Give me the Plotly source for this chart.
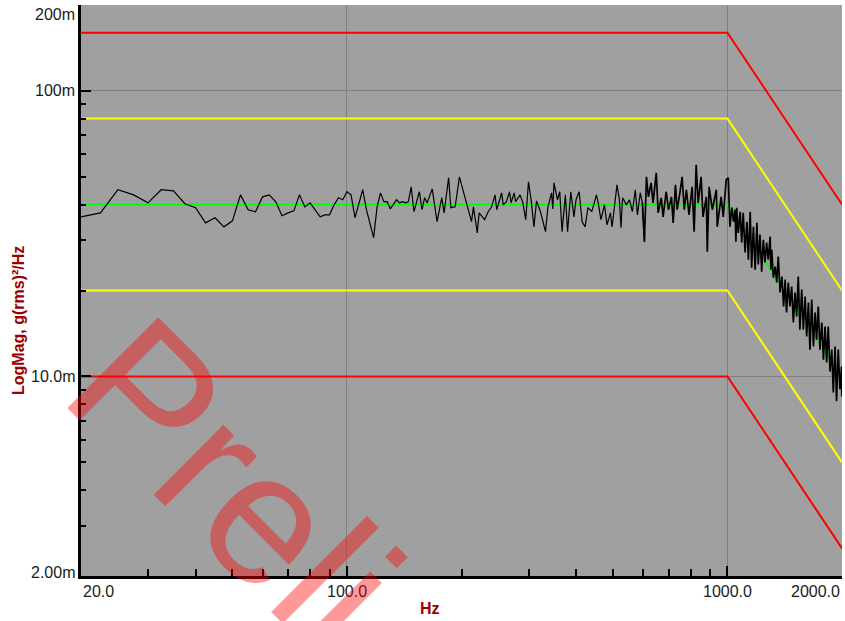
import numpy as np
import plotly.graph_objects as go

# ---- test profile (g^2/Hz) ----
profile_freq = [20, 1000, 2000]
ref_psd = [0.04, 0.04, 0.01]
alarm_hi = [0.08, 0.08, 0.02]
alarm_lo = [0.02, 0.02, 0.005]
abort_hi = [0.16, 0.16, 0.04]
abort_lo = [0.01, 0.01, 0.0025]

# ---- measured response, level in dB re 1 g^2/Hz ----
meas_freq_low = [20, 22.5, 25, 27.5, 30, 32.5, 35, 37.5, 40, 42.5, 45, 47.5, 50, 52.5, 55, 57.5, 60, 62.5, 65, 67.5,
                 70, 72.5, 75, 77.5, 80, 85, 87.5, 90, 92.5, 95, 97.5, 100, 102.5, 105, 110, 112.5, 117.5, 120, 122.5,
                 125, 127.5, 130, 135, 137.5, 140, 142.5, 145, 147.5, 150, 155, 157.5, 160, 162.5, 167.5, 172.5,
                 177.5, 180, 185, 187.5, 192.5, 197.5, 200]
meas_db_low = [-14.41, -14.27, -13.46, -13.64, -13.92, -13.46, -13.50, -13.95, -14.09, -14.62, -14.44, -14.76, -14.55,
               -13.64, -14.16, -14.23, -13.71, -13.64, -13.88, -14.37, -14.27, -14.20, -13.64, -14.06, -13.92, -14.41,
               -14.34, -14.34, -13.99, -13.74, -13.81, -13.53, -13.64, -14.44, -13.46, -14.16, -15.14, -14.06, -13.57,
               -13.88, -13.88, -14.13, -13.81, -13.92, -13.88, -13.92, -13.88, -13.36, -14.23, -13.53, -14.16, -13.74,
               -13.92, -13.43, -14.58, -13.74, -14.27, -13.04, -14.09, -14.06, -13.01, -13.29]

meas_freq_mid = [205, 212.5, 215, 220, 222.5, 230, 235, 240, 245, 247.5, 255, 257.5, 262.5, 267.5, 270, 275, 277.5,
                 285, 290, 295, 300, 305, 310, 315, 322.5, 332.5, 337.5, 345, 347.5, 350, 357.5, 362.5, 367.5, 375,
                 380, 387.5, 395, 400, 407.5, 415, 422.5, 430, 440, 452.5, 457.5, 465, 475, 482.5, 492.5, 497.5,
                 512.5, 520, 525, 530, 542.5, 552.5, 562.5, 572.5, 580, 590, 597.5]
meas_db_mid = [-13.74, -14.58, -14.06, -14.97, -14.27, -14.51, -14.23, -14.06, -13.64, -14.16, -13.57, -13.99, -13.88,
               -13.53, -13.92, -13.57, -13.88, -13.64, -13.92, -14.51, -13.18, -13.85, -14.76, -13.85, -14.23, -14.93,
               -14.06, -13.57, -14.13, -13.22, -13.81, -13.53, -14.93, -13.64, -14.93, -13.53, -14.41, -13.81, -13.53,
               -14.58, -14.76, -14.09, -14.23, -13.64, -13.92, -14.51, -13.99, -14.69, -14.27, -14.76, -13.29, -13.81,
               -14.79, -13.74, -13.99, -13.81, -14.23, -13.46, -14.34, -13.57, -13.92]

meas_freq_dense = [605, 612.5, 620, 630, 637.5, 650, 657.5, 670, 677.5, 690, 700, 712.5, 720, 730, 737.5, 750, 760,
                   770, 780, 792.5, 807.5, 817.5, 827.5, 837.5, 852.5, 862.5, 880, 885, 895, 912.5, 935, 940, 962.5,
                   975, 992.5]
meas_db_dense = [-15.28, -13.01, -13.71, -13.22, -13.92, -12.87, -14.27, -13.74, -14.41, -13.53, -14.16, -13.71,
                 -14.62, -13.29, -14.16, -13.57, -13.01, -14.16, -13.46, -14.34, -13.36, -14.93, -12.59, -13.92,
                 -13.01, -14.41, -13.71, -15.63, -13.36, -14.16, -13.46, -14.76, -13.71, -14.41, -13.11]

meas_freq_high = [1005, 1015, 1027.5, 1037.5, 1047.5, 1052.5, 1057.5, 1067.5, 1080, 1090, 1100, 1112.5, 1125, 1135,
                  1147.5, 1157.5, 1170, 1182.5, 1195, 1205, 1217.5, 1230, 1242.5, 1255, 1267.5, 1280, 1295, 1300,
                  1307.5, 1320, 1335, 1347.5, 1360, 1375, 1390, 1405, 1417.5, 1430, 1445, 1460, 1475, 1490, 1505,
                  1520, 1535, 1550, 1567.5, 1582.5, 1600, 1615, 1632.5, 1647.5, 1665, 1682.5, 1700, 1715, 1732.5,
                  1750, 1770, 1787.5, 1805, 1822.5, 1840, 1860, 1880, 1897.5, 1917.5, 1935, 1955, 1975, 1995, 1997.5,
                  2000]
meas_db_high = [-13.04, -14.76, -14.09, -14.58, -14.16, -15.28, -14.09, -14.97, -14.23, -15.31, -14.27, -15.66,
                -14.58, -15.91, -14.23, -16.19, -14.76, -16.26, -14.62, -16.08, -15.03, -16.33, -15.21, -16.01,
                -15.31, -15.91, -15.10, -16.26, -15.56, -16.54, -16.15, -16.71, -15.80, -17.06, -16.50, -17.55,
                -16.61, -17.76, -16.71, -17.55, -16.85, -18.11, -17.06, -17.90, -16.50, -18.36, -16.96, -18.36,
                -17.20, -18.60, -17.41, -19.06, -17.31, -18.95, -17.76, -18.71, -17.55, -19.06, -18.11, -19.41,
                -18.25, -19.51, -18.25, -19.83, -19.06, -20.56, -18.95, -20.87, -19.06, -20.45, -19.65, -20.70,
                -19.76]

# ---- axes / labels ----
x_tick_vals = [20, 100, 1000, 2000]
x_tick_text = ["20.0", "100.0", "1000.0", "2000.0"]
x_minor_vals = [30, 40, 50, 60, 70, 80, 90, 200, 300, 400, 500, 600, 700, 800, 900]
y_tick_vals = [0.002, 0.01, 0.1, 0.2]
y_tick_text = ["2.00m", "10.0m", "100m", "200m"]
y_minor_vals = [0.003, 0.004, 0.005, 0.006, 0.007, 0.008, 0.009,
                0.02, 0.03, 0.04, 0.05, 0.06, 0.07, 0.08, 0.09]
x_title = "Hz"
y_title = "LogMag, g(rms)²/Hz"
watermark = "Preli."

# sparse (low/mid) part and dense (dense/high) part of the same measurement
sparse_freq = meas_freq_low + meas_freq_mid + meas_freq_dense[:1]
sparse_psd = 10 ** (np.array(meas_db_low + meas_db_mid + meas_db_dense[:1]) / 10.0)
dense_freq = meas_freq_mid[-1:] + meas_freq_dense + meas_freq_high
dense_psd = 10 ** (np.array(meas_db_mid[-1:] + meas_db_dense + meas_db_high) / 10.0)

W, H = 845, 621
ML, MR, MT, MB = 81, 3, 5, 45

fig = go.Figure()
fig.add_trace(go.Scatter(x=profile_freq, y=abort_lo, mode="lines", line=dict(color="#ff0000", width=2)))
fig.add_trace(go.Scatter(x=profile_freq, y=abort_hi, mode="lines", line=dict(color="#ff0000", width=2)))
fig.add_trace(go.Scatter(x=profile_freq, y=alarm_lo, mode="lines", line=dict(color="#ffff00", width=2)))
fig.add_trace(go.Scatter(x=profile_freq, y=alarm_hi, mode="lines", line=dict(color="#ffff00", width=2)))
fig.add_trace(go.Scatter(x=profile_freq, y=ref_psd, mode="lines", line=dict(color="#00ff00", width=2)))
fig.add_trace(go.Scatter(x=sparse_freq, y=sparse_psd, mode="lines", line=dict(color="#000000", width=1.2)))
fig.add_trace(go.Scatter(x=dense_freq, y=dense_psd, mode="lines", line=dict(color="#000000", width=1.7)))

tick_font = dict(family="Liberation Sans, Arial, sans-serif", size=16, color="#1a1a1a")
title_font = dict(family="Liberation Sans, Arial, sans-serif", size=16, color="#990000")

fig.update_xaxes(type="log", range=[np.log10(20), np.log10(2000)],
                 showline=True, linecolor="black", linewidth=3,
                 ticks="inside", tickvals=[100, 1000], ticklen=10, tickwidth=2, tickcolor="black",
                 showticklabels=False, showgrid=True, gridcolor="#808080", gridwidth=1, zeroline=False,
                 minor=dict(tickvals=x_minor_vals, ticks="inside", ticklen=7, tickwidth=2,
                            tickcolor="black", showgrid=False))
fig.update_yaxes(type="log", range=[np.log10(0.002), np.log10(0.2)],
                 showline=True, linecolor="black", linewidth=3,
                 ticks="inside", tickvals=[0.01, 0.1], ticklen=10, tickwidth=2, tickcolor="black",
                 showticklabels=False, showgrid=True, gridcolor="#808080", gridwidth=1, zeroline=False,
                 minor=dict(tickvals=y_minor_vals, ticks="inside", ticklen=5, tickwidth=2,
                            tickcolor="black", showgrid=False))

annotations = []
# x tick labels
x_anchor = ["left", "center", "center", "right"]
for v, t, a in zip(x_tick_vals, x_tick_text, x_anchor):
    annotations.append(dict(x=np.log10(v), xref="x", y=0, yref="paper", text=t, showarrow=False,
                            xanchor=a, yanchor="middle", yshift=-15, font=tick_font))
# y tick labels
y_shift = [4, 0, 0, -9]
for v, t, s in zip(y_tick_vals, y_tick_text, y_shift):
    annotations.append(dict(x=0, xref="paper", y=np.log10(v), yref="y", text=t, showarrow=False,
                            xanchor="right", yanchor="middle", xshift=-4, yshift=s, font=tick_font))
# axis titles
annotations.append(dict(x=(430 - ML) / (W - ML - MR), xref="paper", y=-(608 - (H - MB)) / (H - MT - MB),
                        yref="paper", text="<b>" + x_title + "</b>", showarrow=False,
                        xanchor="center", yanchor="middle", font=title_font))
annotations.append(dict(x=(18 - ML) / (W - ML - MR), xref="paper", y=((H - MB) - 320) / (H - MT - MB),
                        yref="paper", text="<b>" + y_title + "</b>", showarrow=False, textangle=-90,
                        xanchor="center", yanchor="middle", font=title_font))
# watermark (runs off the bottom edge in the reference as well)
annotations.append(dict(x=(253 - ML) / (W - ML - MR), xref="paper", y=((H - MB) - 502) / (H - MT - MB),
                        yref="paper", text=watermark, showarrow=False, textangle=45,
                        xanchor="center", yanchor="middle",
                        font=dict(family="Liberation Sans, Arial, sans-serif", size=187,
                                  color="rgba(255,0,0,0.4)")))

fig.update_layout(width=W, height=H, margin=dict(l=ML, r=MR, t=MT, b=MB),
                  plot_bgcolor="#a0a0a0", paper_bgcolor="white", showlegend=False,
                  annotations=annotations)

fig.write_html("out.html")
